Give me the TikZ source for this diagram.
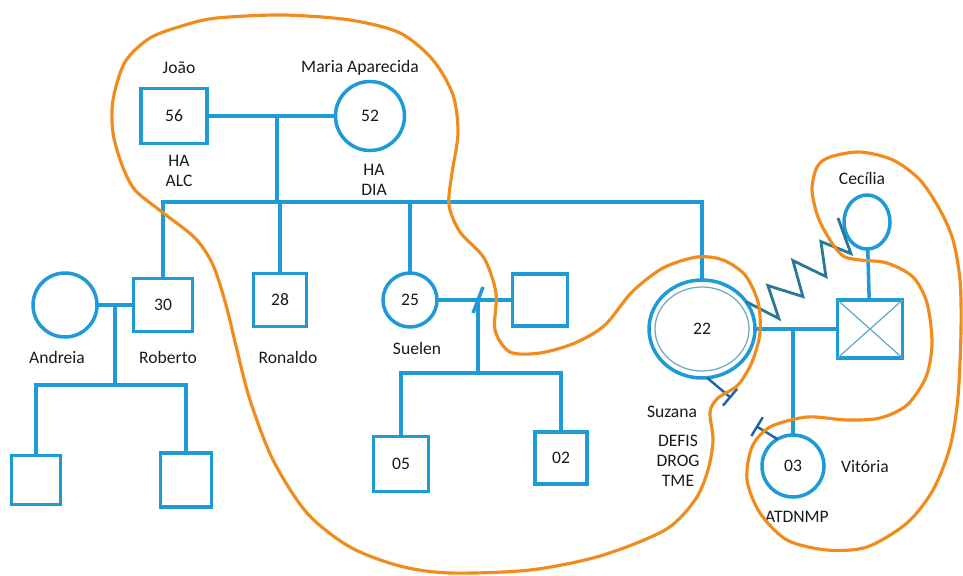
\documentclass[tikz,border=0pt]{standalone}
\usepackage{fontspec}
\setmainfont{Carlito}
\usepackage{tikz}
\usetikzlibrary{arrows.meta, shapes.geometric}
\definecolor{gnLine}{HTML}{1E9BD7}
\definecolor{gnCross}{HTML}{5AAAD2}
\definecolor{gnInner}{HTML}{6AA9C4}
\definecolor{gnHostile}{HTML}{2A7896}
\definecolor{gnCut}{HTML}{1E64AA}
\definecolor{gnContour}{HTML}{F08C1E}
\definecolor{gnInk}{HTML}{1A1A1A}
\newcommand{\gnfont}{\fontsize{10}{11.4}\selectfont}
\tikzset{
  gnmale/.style={rectangle, draw=gnLine, line width=2pt, fill=white,
    inner sep=0pt, outer sep=0pt, text=gnInk, font=\gnfont},
  gnfemale/.style={ellipse, draw=gnLine, line width=2pt, fill=white,
    inner sep=0pt, outer sep=0pt, text=gnInk, font=\gnfont},
  gnname/.style={text=gnInk, font=\gnfont, align=center, inner sep=0pt},
  gnlink/.style={draw=gnLine, line width=2pt},
  gninner/.style={draw=gnInner, line width=0.7pt},
  gncross/.style={draw=gnCross, line width=0.7pt},
  gnhostile/.style={draw=gnHostile, line width=1.6pt, line join=miter},
  gncut/.style={draw=gnCut, line width=1.4pt, -{Bar[width=0.44cm]}},
  gncontour/.style={draw=gnContour, line width=1.8pt},
}

\begin{document}
\begin{tikzpicture}[x=0.02cm, y=-0.02cm]
  \useasboundingbox (0,0) rectangle (963,575);

  % --- Grandparents -------------------------------------------------------
  \node[gnmale, minimum width=1.32cm, minimum height=1.10cm] (joao) at (174,116) {56};
  \node[gnfemale, minimum size=1.38cm] (maria) at (370,116) {52};
  \node[gnname] (joaoN)  at (179,68)  {João};
  \node[gnname] (mariaN) at (360,68)  {Maria Aparecida};
  \node[gnname] (joaoD)  at (179,171) {HA\\ALC};
  \node[gnname] (mariaD) at (374,180) {HA\\DIA};

  % --- Children -----------------------------------------------------------
  \node[gnmale, minimum width=1.18cm, minimum height=1.06cm] (roberto) at (163,305) {30};
  \node[gnmale, minimum size=1.06cm] (ronaldo) at (280,300) {28};
  \node[gnfemale, minimum size=1.08cm] (suelen) at (410,300) {25};
  \node[gnfemale, minimum width=2.12cm, minimum height=1.96cm] (suzana) at (702,329) {22};
  \draw[gninner] (suzana.center) ellipse [x radius=47, y radius=42];

  \node[gnname] (robertoN) at (168,357) {Roberto};
  \node[gnname] (ronaldoN) at (288,357) {Ronaldo};
  \node[gnname] (suelenN)  at (417,348) {Suelen};
  \node[gnname] (suzanaN)  at (672,412) {Suzana};
  \node[gnname] (suzanaD)  at (678,461) {DEFIS\\DROG\\TME};

  % spouses
  \node[gnfemale, minimum size=1.28cm] (andreia) at (65,305) {};
  \node[gnmale, minimum width=1.10cm, minimum height=1.04cm] (suelenH) at (540,300) {};
  \node[gnmale, minimum width=1.30cm, minimum height=1.16cm] (suzanaH) at (870,329) {};
  \node[gnfemale, minimum width=0.92cm, minimum height=1.08cm] (cecilia) at (867,222) {};
  \node[gnname] (andreiaN) at (57,357)  {Andreia};
  \node[gnname] (ceciliaN) at (862,178) {Cecília};

  % --- Grandchildren ------------------------------------------------------
  \node[gnmale, minimum size=0.98cm] (arKidA) at (36,480) {};
  \node[gnmale, minimum width=1.02cm, minimum height=1.08cm] (arKidB) at (186,480) {};
  \node[gnmale, minimum size=1.10cm] (suKidA) at (401,464) {05};
  \node[gnmale, minimum size=1.04cm] (suKidB) at (561,458) {02};
  \node[gnfemale, minimum size=1.24cm] (vitoria) at (793,466) {03};
  \node[gnname] (vitoriaN) at (865,467) {Vitória};
  \node[gnname] (vitoriaD) at (797,517) {ATDNMP};

  % --- Family lines -------------------------------------------------------
  \coordinate (jmMid)  at (277,116);
  \coordinate (sibRow) at (277,202);
  \draw[gnlink] (joao) -- (maria);
  \draw[gnlink] (jmMid) -- (sibRow);
  \draw[gnlink] (roberto.north) |- (sibRow) -| (suzana.north);
  \draw[gnlink] (ronaldo.north) -- (ronaldo.north |- sibRow);
  \draw[gnlink] (suelen.north) -- (suelen.north |- sibRow);

  % Andreia + Roberto
  \coordinate (arMid) at (115,305);
  \coordinate (arRow) at (115,385);
  \draw[gnlink] (andreia) -- (roberto);
  \draw[gnlink] (arMid) -- (arRow);
  \draw[gnlink] (arKidA.north) |- (arRow) -| (arKidB.north);

  % Suelen, separated
  \coordinate (suDiv) at (478,300);
  \coordinate (suRow) at (478,373);
  \draw[gnlink] (suelen) -- (suelenH);
  \draw[gnlink] ([shift={(-5,13)}]suDiv) -- ([shift={(5,-13)}]suDiv);
  \draw[gnlink] (suDiv) -- (suRow);
  \draw[gnlink] (suKidA.north) |- (suRow) -| (suKidB.north);

  % Suzana + partner
  \coordinate (szMid) at (793,329);
  \draw[gnlink] (suzana) -- (suzanaH);
  \draw[gnlink] (szMid) -- (vitoria.north);
  \draw[gnlink] (cecilia) -- (suzanaH);
  \draw[gncross] (suzanaH.north west) -- (suzanaH.south east);
  \draw[gncross] (suzanaH.south west) -- (suzanaH.north east);

  % --- Relations: conflict and cut-off ------------------------------------
  \coordinate (hostEnd) at (838,218);
  \draw[gnhostile] (suzana.32) -- ++(33,17) -- ++(-11,-33) -- ++(35,11)
        -- ++(-10,-36) -- ++(33,16) -- ++(-5,-35) -- ++(30,12) -- (hostEnd);
  \coordinate (szCut) at (731,398);
  \coordinate (vtCut) at (756,426);
  \draw[gncut] (suzana.-84) -- (szCut);
  \draw[gncut] (vitoria.120) -- (vtCut);

  % --- Contours -----------------------------------------------------------
  \draw[gncontour] plot[smooth cycle] coordinates {
    (113,100) (125,62) (150,38) (185,25) (217,18) (283,15) (350,20) (400,33)
    (433,60) (453,95) (458,133) (452,173) (449,205) (460,232) (484,258)
    (496,293) (495,330) (510,352) (540,353) (575,343) (605,325) (632,292)
    (663,268) (697,257) (723,260) (745,275) (758,302) (760,333) (752,362)
    (738,385) (718,398) (710,412) (713,440) (708,470) (695,500) (665,530)
    (600,556) (530,570) (450,573) (400,566) (350,547) (307,513) (273,460)
    (250,400) (237,350) (226,305) (213,265) (195,238) (162,212) (135,190)
    (122,165) (113,133)};
  \draw[gncontour] plot[smooth cycle] coordinates {
    (830,157) (860,152) (893,160) (920,180) (940,210) (953,240) (960,280)
    (961,330) (958,397) (950,447) (933,490) (907,523) (867,547) (827,550)
    (787,540) (760,513) (747,480) (752,447) (770,427) (807,417) (847,420)
    (880,418) (907,405) (926,377) (932,343) (927,303) (913,277) (887,263)
    (860,260) (843,256) (830,240) (818,217) (812,190) (817,167)};

\end{tikzpicture}
\end{document}
